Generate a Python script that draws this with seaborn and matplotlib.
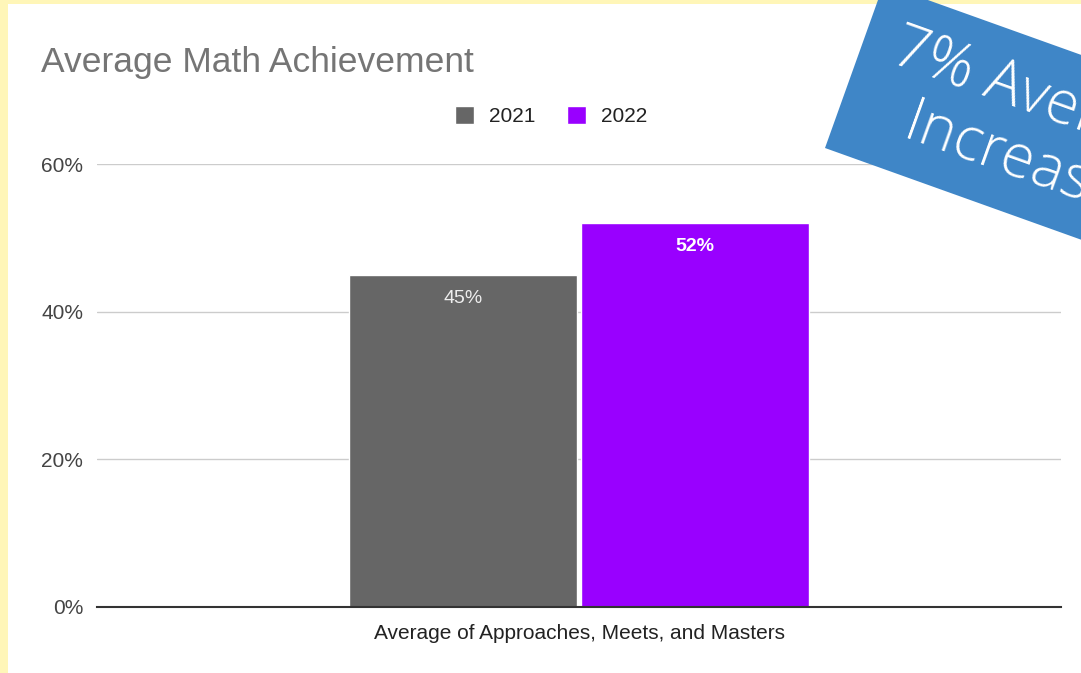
import numpy as np
import pandas as pd
import matplotlib
matplotlib.use("Agg")
import matplotlib.pyplot as plt
from matplotlib.patches import Polygon, Rectangle
from matplotlib.ticker import FuncFormatter
import seaborn as sns

# Data
category = ["Average of Approaches, Meets, and Masters"]
years = ["2021", "2022"]
values = [45, 52]
bar_colors = ["#666666", "#9900ff"]
y_ticks = [0, 20, 40, 60]
title = "Average Math Achievement"
banner_lines = ["7% Average", "Increase"]

sns.set_theme(style="white")
plt.rcParams["font.family"] = ["Liberation Sans", "DejaVu Sans"]

W, H = 1081, 673
fig = plt.figure(figsize=(W / 100, H / 100), dpi=100)
fig.patch.set_facecolor("#fff6b8")

# White card inside the yellow frame
fig.patches.append(Rectangle((8 / W, 0), 1 - 8 / W, 1 - 4 / H,
                             transform=fig.transFigure, facecolor="white",
                             edgecolor="none", zorder=-5))

ax = fig.add_axes([97 / W, (H - 607) / H, (1061 - 97) / W, (607 - 164) / H])
ax.set_facecolor("none")
ax.set_zorder(1)

df = pd.DataFrame({"category": category * len(years), "year": years, "value": values})
sns.barplot(data=df, x="category", y="value", hue="year", palette=bar_colors,
            width=0.482, gap=0.02, saturation=1, ax=ax, zorder=3)

ax.set_ylim(0, 60)
ax.set_yticks(y_ticks)
ax.yaxis.set_major_formatter(FuncFormatter(lambda v, _: f"{v:.0f}%"))
ax.grid(axis="y", color="#cccccc", linewidth=1, zorder=0)
ax.grid(axis="x", visible=False)
for s in ["top", "right", "left"]:
    ax.spines[s].set_visible(False)
ax.spines["bottom"].set_color("#333333")
ax.spines["bottom"].set_linewidth(1.5)
ax.spines["bottom"].set_zorder(4)
ax.tick_params(axis="y", length=0, pad=10, labelsize=15, labelcolor="#444444")
ax.tick_params(axis="x", length=0, pad=12, labelsize=15, labelcolor="#222222")
ax.set_xlabel("")
ax.set_ylabel("")

# Value labels inside the top of each bar
label_styles = [dict(color="#eeeeee", fontweight="normal"),
                dict(color="white", fontweight="bold")]
for cont, style in zip(ax.containers, label_styles):
    for patch, val in zip(cont.patches, cont.datavalues):
        ax.annotate(f"{val:.0f}%", (patch.get_x() + patch.get_width() / 2, val),
                    xytext=(0, -17), textcoords="offset points",
                    ha="center", va="center", fontsize=14, zorder=5, **style)

# Legend
sns.move_legend(ax, loc="center", bbox_to_anchor=(551 / W, 1 - 116 / H),
                bbox_transform=fig.transFigure, ncol=2, frameon=False, title=None,
                fontsize=15, handlelength=0.95, handleheight=0.95,
                handletextpad=0.7, columnspacing=1.5)
for t in ax.get_legend().get_texts():
    t.set_color("#222222")

# Title
fig.text(41 / W, 1 - 72 / H, title, ha="left", va="baseline",
         fontsize=25.5, color="#757575")

# Rotated banner in the top-right corner
ang_deg = 19.7
ang = np.deg2rad(ang_deg)
u = np.array([np.cos(ang), np.sin(ang)])
n = np.array([-np.sin(ang), np.cos(ang)])
A = np.array([825.0, 148.0])
band_h, band_l = 174.0, 420.0
corners = [A, A - band_h * n, A - band_h * n + band_l * u, A + band_l * u]
corners_fig = [(p[0] / W, 1 - p[1] / H) for p in corners]
fig.patches.append(Polygon(corners_fig, closed=True, transform=fig.transFigure,
                           facecolor="#3f86c7", edgecolor="none", zorder=10))

# Line origins (left end of each baseline, in pixels from the top-left)
origins = [np.array([889.0, 62.0]), np.array([901.0, 138.0])]
for line, o in zip(banner_lines, origins):
    fig.text(o[0] / W, 1 - o[1] / H, line, rotation=-ang_deg,
             rotation_mode="anchor", ha="left", va="baseline",
             fontsize=43, fontweight="light", color="white",
             family=["Open Sans", "DejaVu Sans"], zorder=11)

fig.savefig("out.png", dpi=100)
